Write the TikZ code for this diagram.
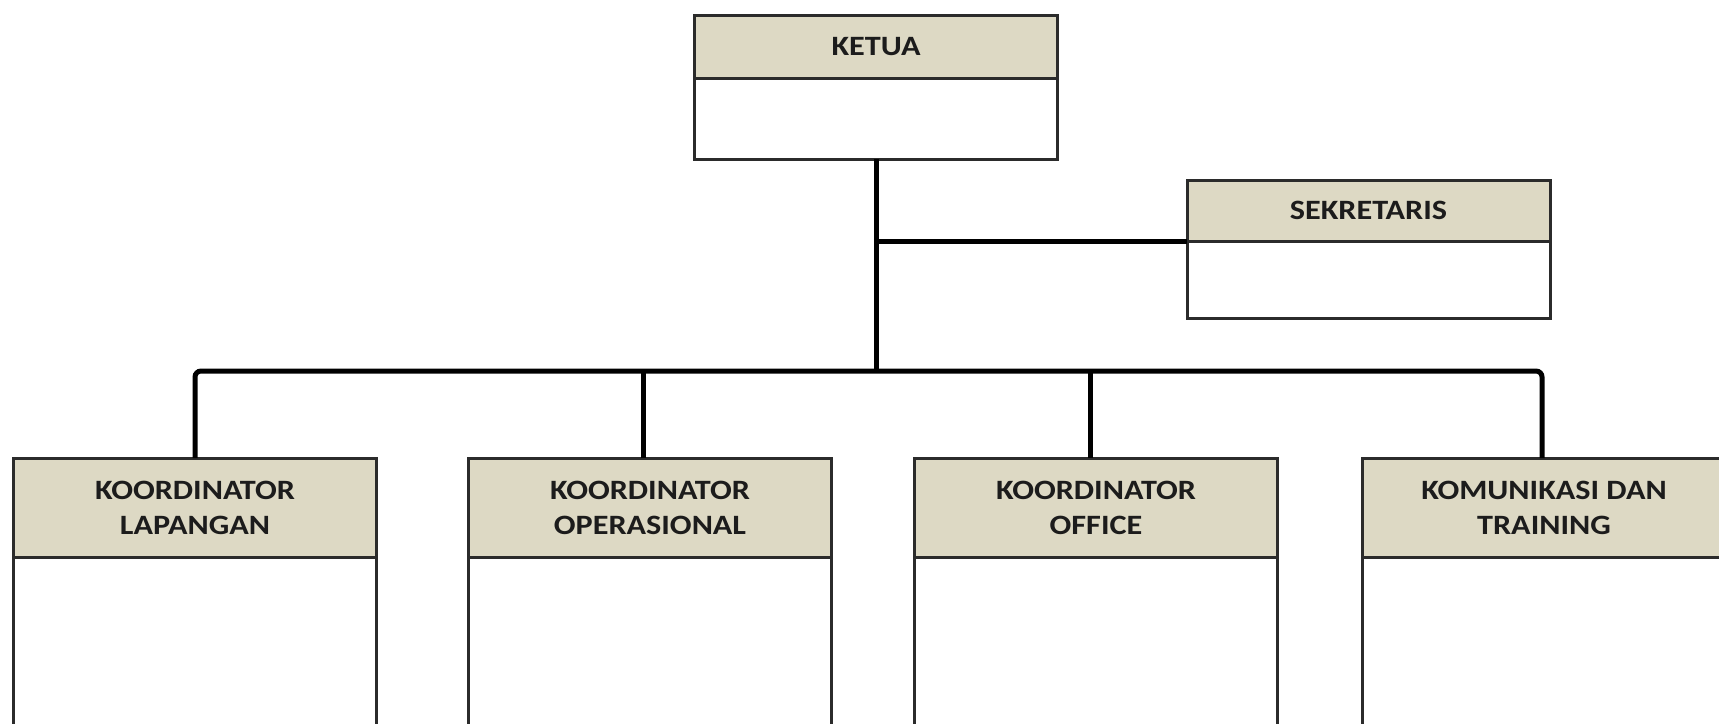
\documentclass[tikz,border=0pt]{standalone}
\usepackage{fontspec}
\setmainfont{Carlito}[FakeStretch=1.15]
\definecolor{hdrfill}{HTML}{DDD9C4}
\definecolor{boxline}{HTML}{2B2B2B}
\definecolor{txt}{HTML}{1C1C1C}
\begin{document}
\begin{tikzpicture}[x=1pt,y=-1pt,
  hdr/.style={draw=boxline, line width=3pt, fill=hdrfill, minimum width=363pt,
    inner sep=0pt, outer sep=0pt, align=center, text=txt,
    font=\fontsize{28pt}{35pt}\selectfont\bfseries},
  bodybox/.style={draw=boxline, line width=3pt, fill=white, minimum width=363pt, inner sep=0pt, outer sep=0pt},
  conn/.style={draw=black, line width=5pt}]
\useasboundingbox (0,0) rectangle (1719,723);
\clip (0,0) rectangle (1719,723);
\fill[white] (0,0) rectangle (1719,723);

% KETUA
\node[hdr, minimum height=63pt] (ketH) at (876,46.5) {KETUA};
\node[bodybox, minimum height=81pt, anchor=north] (ketB) at (ketH.south) {};

% SEKRETARIS
\node[hdr, minimum height=61pt] (sekH) at (1368.5,210.5) {SEKRETARIS};
\node[bodybox, minimum height=77pt, anchor=north] (sekB) at (sekH.south) {};

% bottom row
\node[hdr, minimum height=99pt] (b1H) at (195,507.5) {KOORDINATOR\\LAPANGAN};
\node[bodybox, minimum height=260pt, anchor=north] (b1B) at (b1H.south) {};
\node[hdr, minimum height=99pt] (b2H) at (650,507.5) {KOORDINATOR\\OPERASIONAL};
\node[bodybox, minimum height=260pt, anchor=north] (b2B) at (b2H.south) {};
\node[hdr, minimum height=99pt] (b3H) at (1096,507.5) {KOORDINATOR\\OFFICE};
\node[bodybox, minimum height=260pt, anchor=north] (b3B) at (b3H.south) {};
\node[hdr, minimum height=99pt] (b4H) at (1544,507.5) {KOMUNIKASI DAN\\TRAINING};
\node[bodybox, minimum height=260pt, anchor=north] (b4B) at (b4H.south) {};

% connector points
\coordinate (bus) at (876,371);
\coordinate (j) at (ketB.south |- sekH.south west);
\coordinate (d1) at (195,458);
\coordinate (d2) at (643,458);
\coordinate (d3) at (1090,458);
\coordinate (d4) at (1542,458);

% connectors
\draw[conn] (ketB.south) -- (bus);
\draw[conn] (j) -- (sekH.south west);
\draw[conn, rounded corners=6pt] (d1) -- (d1 |- bus) -- (d4 |- bus) -- (d4);
\draw[conn] (d2 |- bus) -- (d2);
\draw[conn] (d3 |- bus) -- (d3);
\end{tikzpicture}
\end{document}
